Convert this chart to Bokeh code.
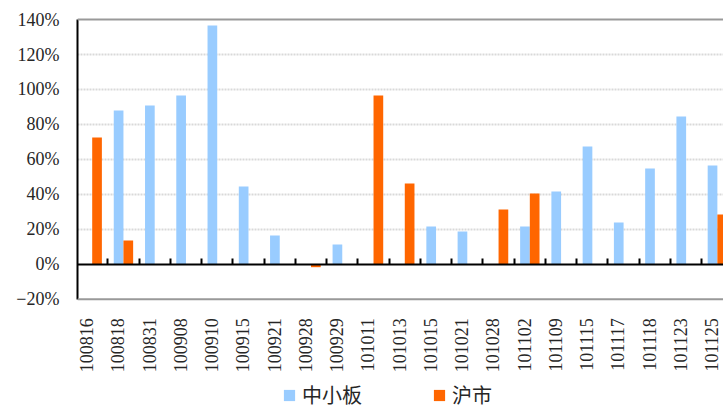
import math
import numpy as np
from bokeh.plotting import figure
from bokeh.models import (ColumnDataSource, Range1d, LinearAxis, FixedTicker, Span,
                          Legend, LegendItem, Grid)
from bokeh.transform import dodge
from bokeh.embed import file_html
from bokeh.resources import INLINE

NAN = float("nan")

dates = ["100816", "100818", "100831", "100908", "100910", "100915", "100921",
         "100928", "100929", "101011", "101013", "101015", "101021", "101028",
         "101102", "101109", "101115", "101117", "101118", "101123", "101125"]
sme = [NAN, 87.9, 90.8, 96.5, 136.6, 44.5, 16.4, NAN, 11.3, NAN, NAN, 21.6,
       18.7, NAN, 21.6, 41.6, 67.3, 23.9, 54.7, 84.5, 56.5]
sh = [72.5, 13.6, NAN, NAN, NAN, NAN, NAN, -1.7, NAN, 96.5, 46.2, NAN, NAN,
      31.3, 40.4, NAN, NAN, NAN, NAN, NAN, 28.4]
y_ticks = [-20, 0, 20, 40, 60, 80, 100, 120, 140]
series_names = ["中小板", "沪市"]
colors = ["#99CCFF", "#FF6600"]

idx = list(range(len(dates)))
src = ColumnDataSource(dict(x=idx, sme=np.array(sme), sh=np.array(sh)))

# frame covers the whole canvas right of the y labels; the value axis spans -20..140
p = figure(width=723, height=410,
           x_range=Range1d(-0.47, 20.196), y_range=Range1d(-83.7, 150.9),
           output_backend="svg", toolbar_location=None,
           x_axis_location=None, y_axis_location=None,
           min_border_left=77, min_border_right=0, min_border_top=0,
           min_border_bottom=0)
p.outline_line_color = None
p.background_fill_color = "white"
p.border_fill_color = "white"
for g in p.grid:
    g.visible = False

bw = 0.31
p.add_layout(Grid(dimension=1, ticker=FixedTicker(ticks=y_ticks[2:-1]),
                  grid_line_color="#d9d9d9", grid_line_width=2,
                  grid_line_dash="2 1"))

rb = p.vbar(x=dodge("x", -bw / 2), top="sme", bottom=0, width=bw, source=src,
            fill_color=colors[0], line_color=None)
ro = p.vbar(x=dodge("x", bw / 2), top="sh", bottom=0, width=bw, source=src,
            fill_color=colors[1], line_color=None)

font = "Liberation Serif"
ya = LinearAxis(ticker=FixedTicker(ticks=y_ticks), bounds=(y_ticks[0], y_ticks[-1]),
                major_label_overrides={t: f"{t}%".replace("-", "\u2212") for t in y_ticks},
                major_tick_in=0, major_tick_out=0, minor_tick_line_color=None,
                axis_line_color="black", axis_line_width=2,
                major_label_standoff=18,
                major_label_text_font=font, major_label_text_font_size="18px",
                major_label_text_color="#262626")
p.add_layout(ya, "left")

p.add_layout(Span(location=y_ticks[-1], dimension="width",
                  line_color="#999999", line_width=2))
p.add_layout(Span(location=y_ticks[0], dimension="width",
                  line_color="#999999", line_width=2))

label_shift = -0.18
label_pos = [i + label_shift for i in idx]
xa = LinearAxis(fixed_location=y_ticks[0], ticker=FixedTicker(ticks=label_pos),
                major_label_overrides={pos: d for pos, d in zip(label_pos, dates)},
                major_label_orientation=math.pi / 2,
                major_tick_in=0, major_tick_out=0, minor_tick_line_color=None,
                axis_line_color=None,
                major_label_standoff=19,
                major_label_text_font=font, major_label_text_font_size="18px",
                major_label_text_color="#262626")
p.add_layout(xa, "below")

bounds = [i + 0.5 for i in idx[:-1]]
za = LinearAxis(fixed_location=0, ticker=FixedTicker(ticks=bounds),
                major_label_overrides={b: "" for b in bounds},
                major_label_text_font_size="1px", major_label_standoff=0,
                major_tick_in=0, major_tick_out=6, major_tick_line_width=2,
                major_tick_line_color="black", minor_tick_line_color=None,
                axis_line_color="black", axis_line_width=2)
p.add_layout(za, "above")

leg = Legend(items=[LegendItem(label=series_names[0], renderers=[rb]),
                    LegendItem(label=series_names[1], renderers=[ro])],
             orientation="horizontal", location=(205, 1),
             label_text_font="Noto Sans CJK SC", label_text_font_size="20px",
             label_text_color="#262626",
             glyph_width=14, glyph_height=14, label_standoff=6, spacing=70,
             border_line_color=None, background_fill_alpha=0,
             margin=0, padding=0)
p.add_layout(leg, "center")

open("out.html", "w").write(file_html(p, INLINE))
